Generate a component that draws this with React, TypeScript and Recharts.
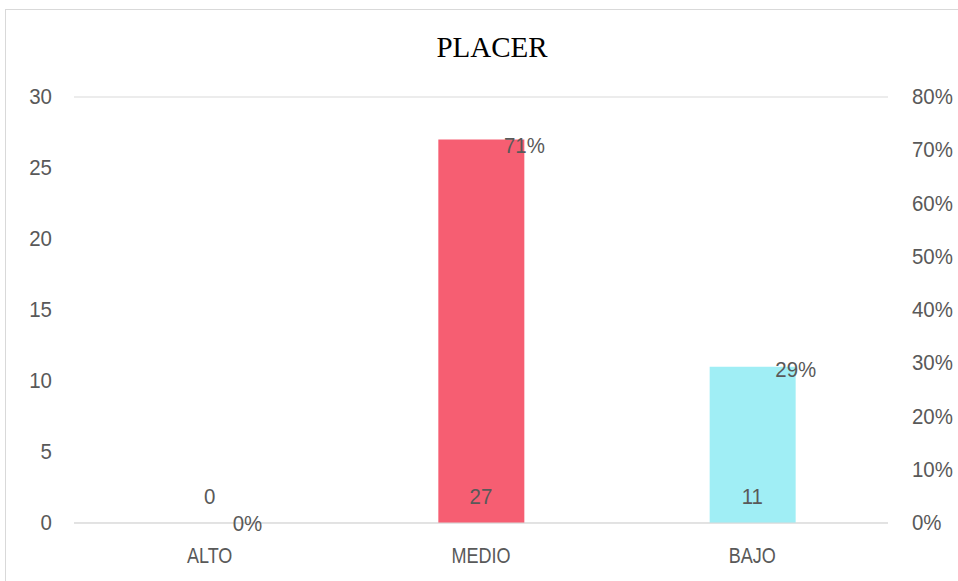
import React from 'react';
import { ComposedChart, Bar, Line, XAxis, YAxis, CartesianGrid, Cell, LabelList } from 'recharts';

const categories = ['ALTO', 'MEDIO', 'BAJO'];
const counts = [0, 27, 11];
const percents = [0, 0.71, 0.29];
const barColors = ['#F65E72', '#F65E72', '#A0EEF5'];
const leftTicks = [0, 5, 10, 15, 20, 25, 30];
const rightTicks = [0, 0.1, 0.2, 0.3, 0.4, 0.5, 0.6, 0.7, 0.8];

const data = categories.map((c, i) => ({ name: c, count: counts[i], pct: percents[i], base: 0 }));

const FONT = '"Liberation Sans", Arial, sans-serif';
const TXT = '#595959';
const FS = 22;
const SX_TEXT = 0.82;
const SX_NUM = 0.93;

const Narrow = ({ x, y, anchor, sx = SX_NUM, children }: any) => (
  <text transform={`translate(${x},${y}) scale(${sx},1)`} textAnchor={anchor} dominantBaseline="central"
    fontFamily={FONT} fontSize={FS} fill={TXT}>{children}</text>
);

const XTick = (props: any) => {
  const { x, y, payload } = props;
  return <Narrow x={x} y={Number(y) + 8} anchor="middle" sx={SX_TEXT}>{payload.value}</Narrow>;
};
const LTick = (props: any) => {
  const { x, y, payload } = props;
  return <Narrow x={x} y={y} anchor="end">{payload.value}</Narrow>;
};
const RTick = (props: any) => {
  const { x, y, payload } = props;
  return <Narrow x={x} y={y} anchor="start">{Math.round(payload.value * 100) + '%'}</Narrow>;
};

const CountLabel = (props: any) => {
  const { x, y, value } = props;
  return <Narrow x={x} y={Number(y) - 26} anchor="middle">{value}</Narrow>;
};

const PctLabel = (props: any) => {
  const { x, y, value } = props;
  return <Narrow x={Number(x) + 23} y={Number(y) + 1} anchor="start">{Math.round(Number(value) * 100) + '%'}</Narrow>;
};

export default function App() {
  React.useLayoutEffect(() => {
    document.body.style.margin = '0';
  }, []);
  return (
    <div style={{ position: 'relative', width: 958, height: 581, overflow: 'hidden', background: '#fff' }}>
      <div style={{ position: 'absolute', left: 5, top: 9, width: 1000, height: 1000, border: '1px solid #d9d9d9', boxSizing: 'border-box' }} />
      <div style={{ position: 'absolute', left: 13, top: 30, width: 958, textAlign: 'center', fontFamily: '"Liberation Serif", "Times New Roman", serif', fontSize: 29, color: '#000', lineHeight: '34px' }}>PLACER</div>
      <div style={{ position: 'absolute', left: 0, top: 0 }}>
        <ComposedChart width={958} height={581} data={data} margin={{ top: 97, right: 0, bottom: 0, left: 0 }}>
          <CartesianGrid vertical={false} stroke="#d9d9d9" strokeWidth={1} />
          <XAxis dataKey="name" height={58} axisLine={{ stroke: '#d9d9d9' }} tickLine={false} tickSize={0} tickMargin={24}
            tick={XTick} />
          <YAxis yAxisId="left" width={74} domain={[0, 30]} ticks={leftTicks} axisLine={false} tickLine={false} tickSize={0} tickMargin={22}
            tick={LTick} interval={0} />
          <YAxis yAxisId="right" orientation="right" width={70} domain={[0, 0.8]} ticks={rightTicks} axisLine={false} tickLine={false} tickSize={0} tickMargin={24}
            interval={0} tick={RTick} />
          <Bar yAxisId="left" dataKey="count" barSize={86} isAnimationActive={false}>
            {data.map((d, i) => <Cell key={d.name} fill={barColors[i]} />)}
          </Bar>
          <Line yAxisId="left" dataKey="base" stroke="none" dot={false} activeDot={false} isAnimationActive={false}>
            <LabelList dataKey="count" content={CountLabel} />
          </Line>
          <Line yAxisId="right" dataKey="pct" stroke="none" dot={false} activeDot={false} isAnimationActive={false}>
            <LabelList dataKey="pct" content={PctLabel} />
          </Line>
        </ComposedChart>
      </div>
    </div>
  );
}
